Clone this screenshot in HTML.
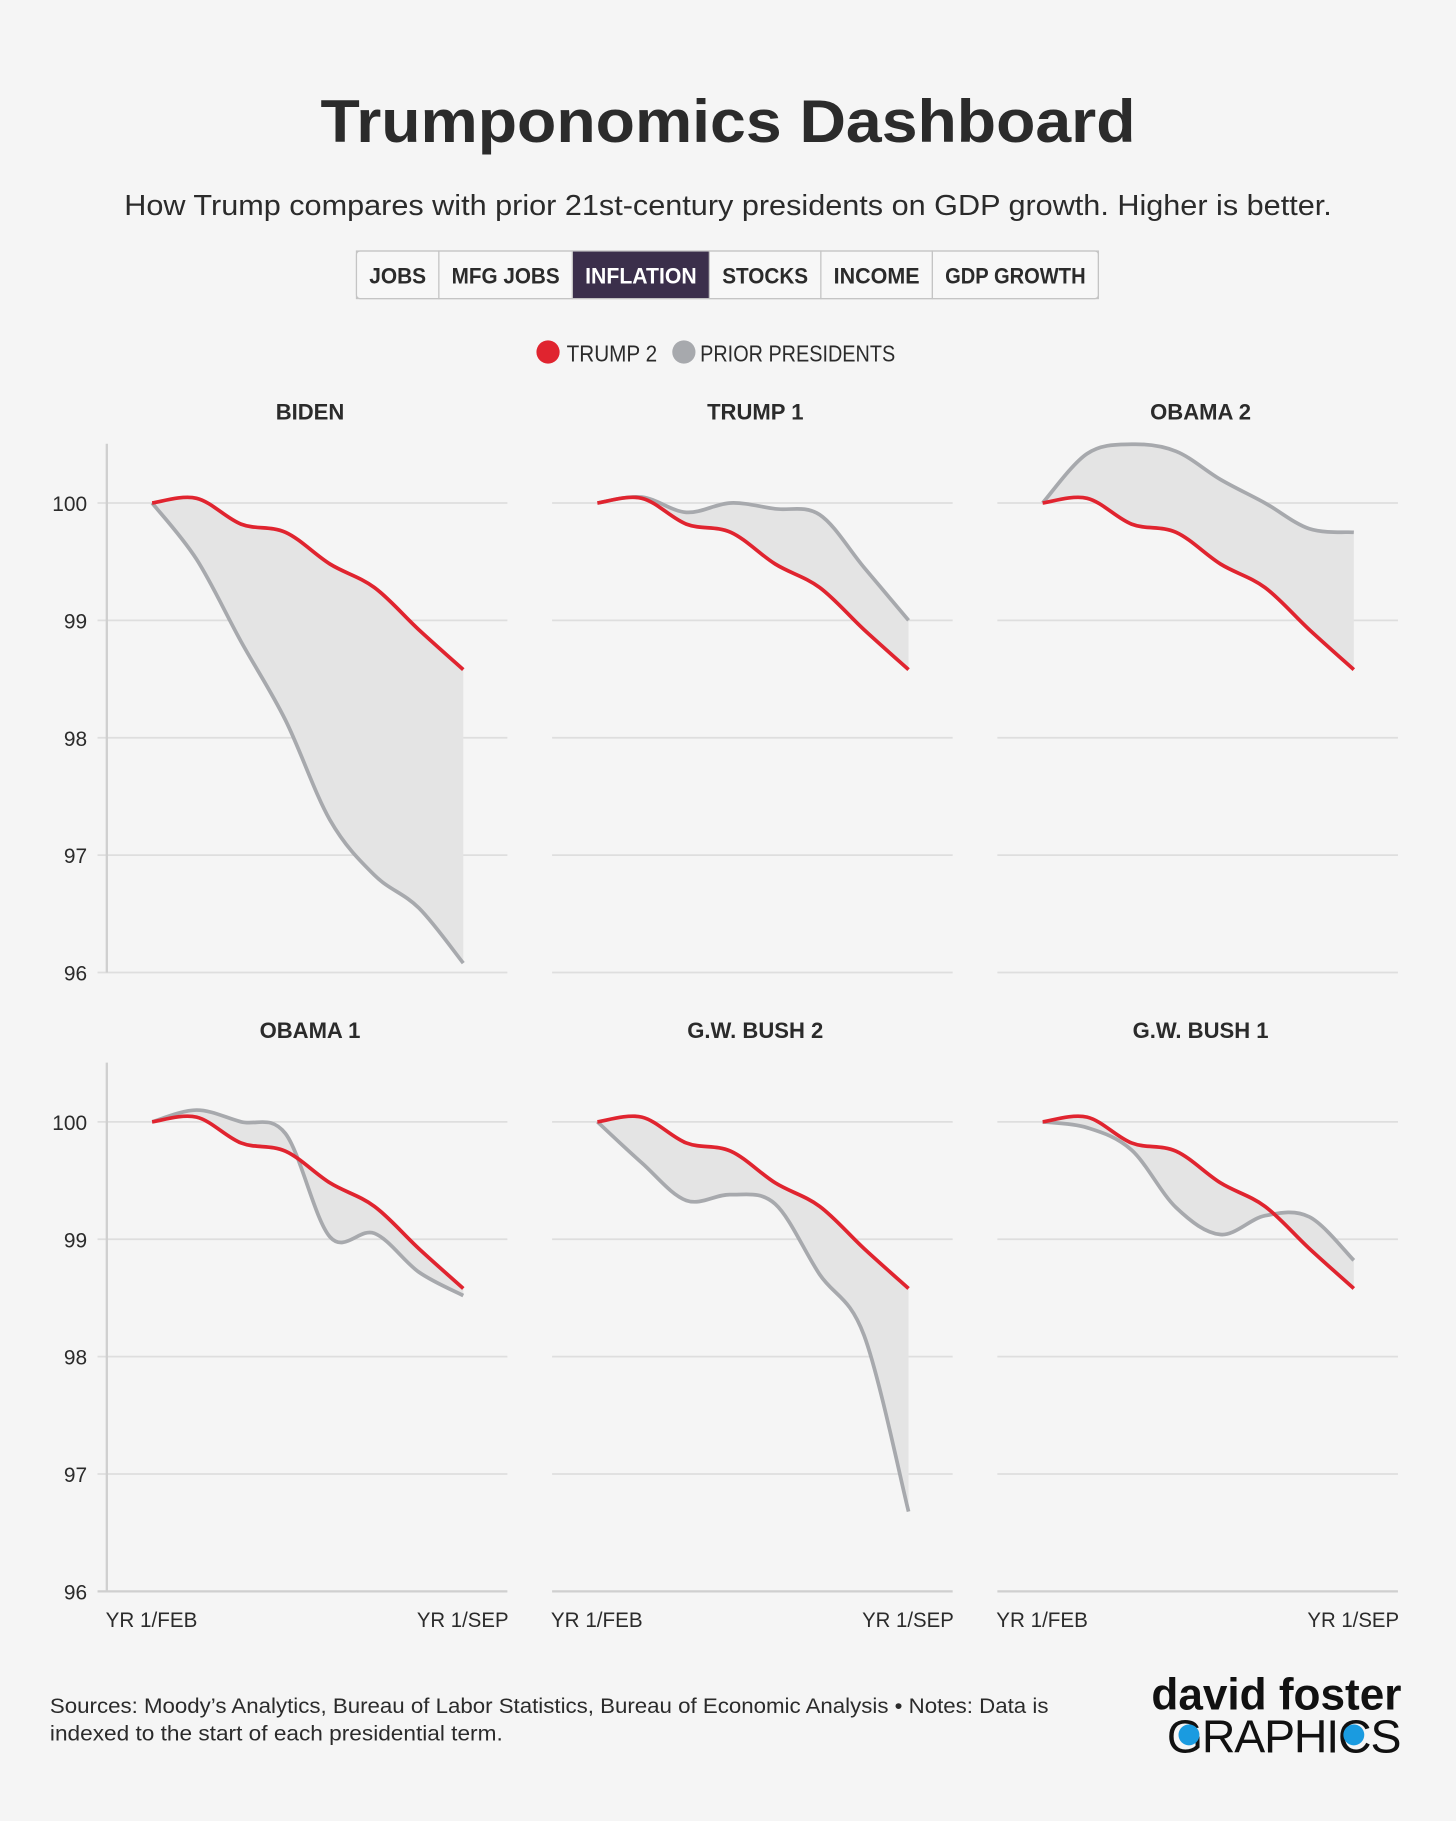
<!DOCTYPE html>
<html><head><meta charset="utf-8"><style>
body{margin:0;background:#f5f5f5;}
svg{display:block;font-family:"Liberation Sans",sans-serif;}
</style></head><body>
<svg id="c" width="1456" height="1821" viewBox="0 0 1254 1568">
<rect width="1254" height="1568" fill="#f5f5f5"/>
<text x="627" y="122" text-anchor="middle" font-size="52" font-weight="bold" fill="#2b2b2b" textLength="702" lengthAdjust="spacingAndGlyphs">Trumponomics Dashboard</text>
<text x="627" y="185" text-anchor="middle" font-size="25" fill="#2b2b2b" textLength="1040" lengthAdjust="spacingAndGlyphs">How Trump compares with prior 21st-century presidents on GDP growth. Higher is better.</text>
<g id="tabs"></g>
<g>
<circle cx="472" cy="303" r="10" fill="#e0242f"/>
<text x="488" y="311" font-size="20" fill="#2b2b2b" textLength="78" lengthAdjust="spacingAndGlyphs">TRUMP 2</text>
<circle cx="589" cy="303" r="10" fill="#a7a9ad"/>
<text x="603" y="311" font-size="20" fill="#2b2b2b" textLength="168" lengthAdjust="spacingAndGlyphs">PRIOR PRESIDENTS</text>
</g>
<g id="panels"></g>
<text x="43" y="1475" font-size="18" fill="#2b2b2b" textLength="860" lengthAdjust="spacingAndGlyphs">Sources: Moody’s Analytics, Bureau of Labor Statistics, Bureau of Economic Analysis • Notes: Data is</text>
<text x="43" y="1499" font-size="18" fill="#2b2b2b" textLength="390" lengthAdjust="spacingAndGlyphs">indexed to the start of each presidential term.</text>
<g>
<text x="1207" y="1472" text-anchor="end" font-size="38" font-weight="bold" fill="#111">david foster</text>
<text x="1207" y="1509" text-anchor="end" font-size="40" fill="#111" textLength="202">GRAPHICS</text>
<circle cx="1024" cy="1494" r="9" fill="#1a9be0"/>
<circle cx="1166" cy="1494" r="9" fill="#1a9be0"/>
</g>
</svg>
<script>
const NS='http://www.w3.org/2000/svg';
const months=['FEB','MAR','APR','MAY','JUN','JUL','AUG','SEP'];
const trump2=[100,100.04,99.82,99.75,99.48,99.28,98.92,98.58];
const biden=[100,99.52,98.82,98.15,97.3,96.83,96.55,96.08];
const trump1=[100,100.05,99.92,100.0,99.95,99.9,99.45,99.0];
const obama2=[100,100.42,100.5,100.44,100.2,100.0,99.78,99.75];
const obama1=[100,100.1,100.0,99.9,99.02,99.05,98.72,98.52];
const bush2=[100,99.65,99.33,99.38,99.3,98.7,98.18,96.68];
const bush1=[100,99.95,99.76,99.27,99.04,99.2,99.19,98.82];
const panelNames=['BIDEN','TRUMP 1','OBAMA 2','OBAMA 1','G.W. BUSH 2','G.W. BUSH 1'];
const panelSeries=[biden,trump1,obama2,obama1,bush2,bush1];
const yTicks=[100,99,98,97,96];
const tabLabels=['JOBS','MFG JOBS','INFLATION','STOCKS','INCOME','GDP GROWTH'];
const tabEdges=[307,378,493,611,707,803,946];

function el(t,a,p){const e=document.createElementNS(NS,t);for(const k in a)e.setAttribute(k,a[k]);p.appendChild(e);return e;}
const tabs=document.getElementById('tabs');
el('rect',{x:307,y:216,width:639,height:41,rx:3,fill:'#f7f7f7',stroke:'#c4c4c4'},tabs);
tabLabels.forEach((l,i)=>{
  const x0=tabEdges[i],x1=tabEdges[i+1];
  const r=el('rect',{x:x0,y:216,width:x1-x0,height:41,fill:i==2?'#3b2f4b':'none',stroke:'#c4c4c4'},tabs);
  
  
  const t=el('text',{x:(x0+x1)/2,y:244,'text-anchor':'middle','font-size':19,'font-weight':'bold',fill:i==2?'#fff':'#2b2b2b',textLength:(x1-x0)-22,lengthAdjust:'spacingAndGlyphs'},tabs);
  t.textContent=l;
  
  
});

function path(pts){
  let d='M'+pts[0][0]+','+pts[0][1];
  for(let i=0;i<pts.length-1;i++){
    const p0=pts[Math.max(i-1,0)],p1=pts[i],p2=pts[i+1],p3=pts[Math.min(i+2,pts.length-1)];
    const c1=[p1[0]+(p2[0]-p0[0])/6,p1[1]+(p2[1]-p0[1])/6];
    const c2=[p2[0]-(p3[0]-p1[0])/6,p2[1]-(p3[1]-p1[1])/6];
    d+=' C'+c1[0]+','+c1[1]+' '+c2[0]+','+c2[1]+' '+p2[0]+','+p2[1];
  }
  return d;
}
const panels=document.getElementById('panels');
panelSeries.forEach((ser,i)=>{
  const col=i%3,row=Math.floor(i/3);
  const px=92+col*383.5, y100=433+row*533;
  const ys=v=>y100+(100-v)*101.1;
  const xs=j=>px+39+j*(268/(months.length-1));
  const g=el('g',{},panels);
  
  
  const tt=el('text',{x:px+175,y:y100-72,'text-anchor':'middle','font-size':19,'font-weight':'bold',fill:'#2b2b2b'},g);
  tt.textContent=panelNames[i];
  
  
  yTicks.forEach(v=>{
    const last=v===yTicks[yTicks.length-1];
    el('line',{x1:px-(col==0?8:0),x2:px+345,y1:ys(v),y2:ys(v),stroke:last&&row==1?'#cfcfcf':'#dedede','stroke-width':last&&row==1?2:1.5},g);
    if(col==0){
      const t=el('text',{x:px-17,y:ys(v)+7,'text-anchor':'end','font-size':18,fill:'#2b2b2b'},g);
      t.textContent=v;
      
      
    }
  });
  if(col==0) el('line',{x1:px,x2:px,y1:y100-51,y2:ys(96),stroke:'#cfcfcf','stroke-width':2},g);
  const tp=trump2.map((v,j)=>[xs(j),ys(v)]);
  const gp=ser.map((v,j)=>[xs(j),ys(v)]);
  const rev=gp.slice().reverse();
  const rp=path(rev);
  const area=el('path',{d:path(tp)+' L'+rev[0][0]+','+rev[0][1]+rp.slice(rp.indexOf(' C'))+' Z',fill:'#e4e4e4'},g);
  
  
  const gl=el('path',{d:path(gp),fill:'none',stroke:'#a7a9ad','stroke-width':3.2},g);
  
  
  const rl=el('path',{d:path(tp),fill:'none',stroke:'#e0242f','stroke-width':3.2},g);
  
  
  if(row==1){
    const a=el('text',{x:px-1,y:1401,'text-anchor':'start','font-size':18,fill:'#2b2b2b',textLength:79,lengthAdjust:'spacingAndGlyphs'},g);
    a.textContent='YR 1/'+months[0];
    
    
    const b=el('text',{x:px+267,y:1401,'text-anchor':'start','font-size':18,fill:'#2b2b2b',textLength:79,lengthAdjust:'spacingAndGlyphs'},g);
    b.textContent='YR 1/'+months[months.length-1];
    
    
  }
});
</script>
</body></html>
